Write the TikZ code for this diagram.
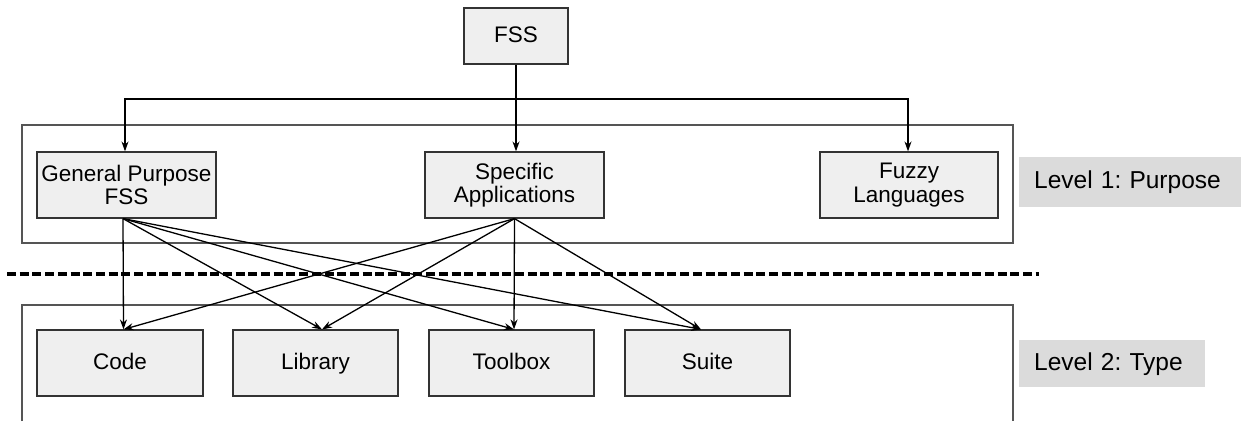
\documentclass[tikz,border=0pt]{standalone}
\usepackage{fontspec}
\setmainfont{Liberation Sans}
\usetikzlibrary{arrows.meta,calc}
\definecolor{boxfill}{HTML}{EFEFEF}
\definecolor{boxline}{HTML}{333333}
\definecolor{outerline}{HTML}{555555}
\definecolor{labelfill}{HTML}{DBDBDB}
\frenchspacing
\tikzset{
  catbox/.style={draw=boxline, fill=boxfill, line width=1.2pt, inner sep=0pt,
    minimum height=66pt, align=center, font=\fontsize{22.5}{23.5}\selectfont},
  typebox/.style={catbox, text height=16.5pt, text depth=4.5pt},
  outerbox/.style={draw=outerline, line width=1.1pt},
  levellabel/.style={fill=labelfill, inner sep=0pt, inner xsep=15pt, anchor=west,
    align=left, text height=18pt, text depth=5pt, font=\fontsize{24.5}{26}\selectfont},
  arr/.style={line width=1.3pt, -{Stealth[length=10pt,width=7pt]}},
  sepline/.style={line width=4pt, dash pattern=on 9pt off 3.7pt},
}
\begin{document}
\begin{tikzpicture}[x=1pt,y=-1pt]
\useasboundingbox (0,0) rectangle (1241,421);
% outer level boxes
\draw[outerbox] (22,125) rectangle (1013,243);
\draw[outerbox] (22,421) -- (22,305) -- (1013,305) -- (1013,421);
% separator
\draw[sepline] (7,274) -- (1039,274);
% nodes
\node[typebox, minimum width=104pt, minimum height=56pt] (FSS) at (516,36) {FSS};
\node[catbox, minimum width=179pt] (GP) at (126.5,185) {General Purpose\\FSS};
\node[catbox, minimum width=179pt] (Spec) at (514.5,185) {Specific\\Applications};
\node[catbox, minimum width=178pt] (Fuzzy) at (909,185) {Fuzzy\\Languages};
\node[typebox, minimum width=166pt] (Code) at (120,363) {Code};
\node[typebox, minimum width=165pt] (Lib) at (315.5,363) {Library};
\node[typebox, minimum width=165pt] (Tool) at (511.5,363) {Toolbox};
\node[typebox, minimum width=165pt] (Suite) at (707.5,363) {Suite};
% level labels
\node[levellabel, text width=192pt, minimum height=50pt] (L1) at (1019,182) {Level 1: Purpose};
\node[levellabel, text width=156pt, minimum height=47pt] (L2) at (1019,363.5) {Level 2: Type};
% top connectors
\coordinate (bus) at (516,99);
\draw[arr] (FSS.south) -- (FSS.south |- Spec.north);
\draw[arr] (bus) -| ($(GP.north)+(-1.5,0)$);
\draw[arr] (bus) -| ($(Fuzzy.north)+(-1,0)$);
% lower connectors
\coordinate (sGP) at ($(GP.south)+(-3.5,0)$);
\coordinate (sSp) at (Spec.south);
\coordinate (tCode) at ($(Code.north)+(3.5,0)$);
\coordinate (tLib) at ($(Lib.north)+(6.5,0)$);
\coordinate (tTool) at ($(Tool.north)+(2.5,0)$);
\coordinate (tSuite) at ($(Suite.north)+(-6.5,0)$);
\foreach \t in {tCode,tLib,tTool,tSuite}{
  \draw[arr] (sGP) -- (\t);
  \draw[arr] (sSp) -- (\t);
}
\end{tikzpicture}
\end{document}
